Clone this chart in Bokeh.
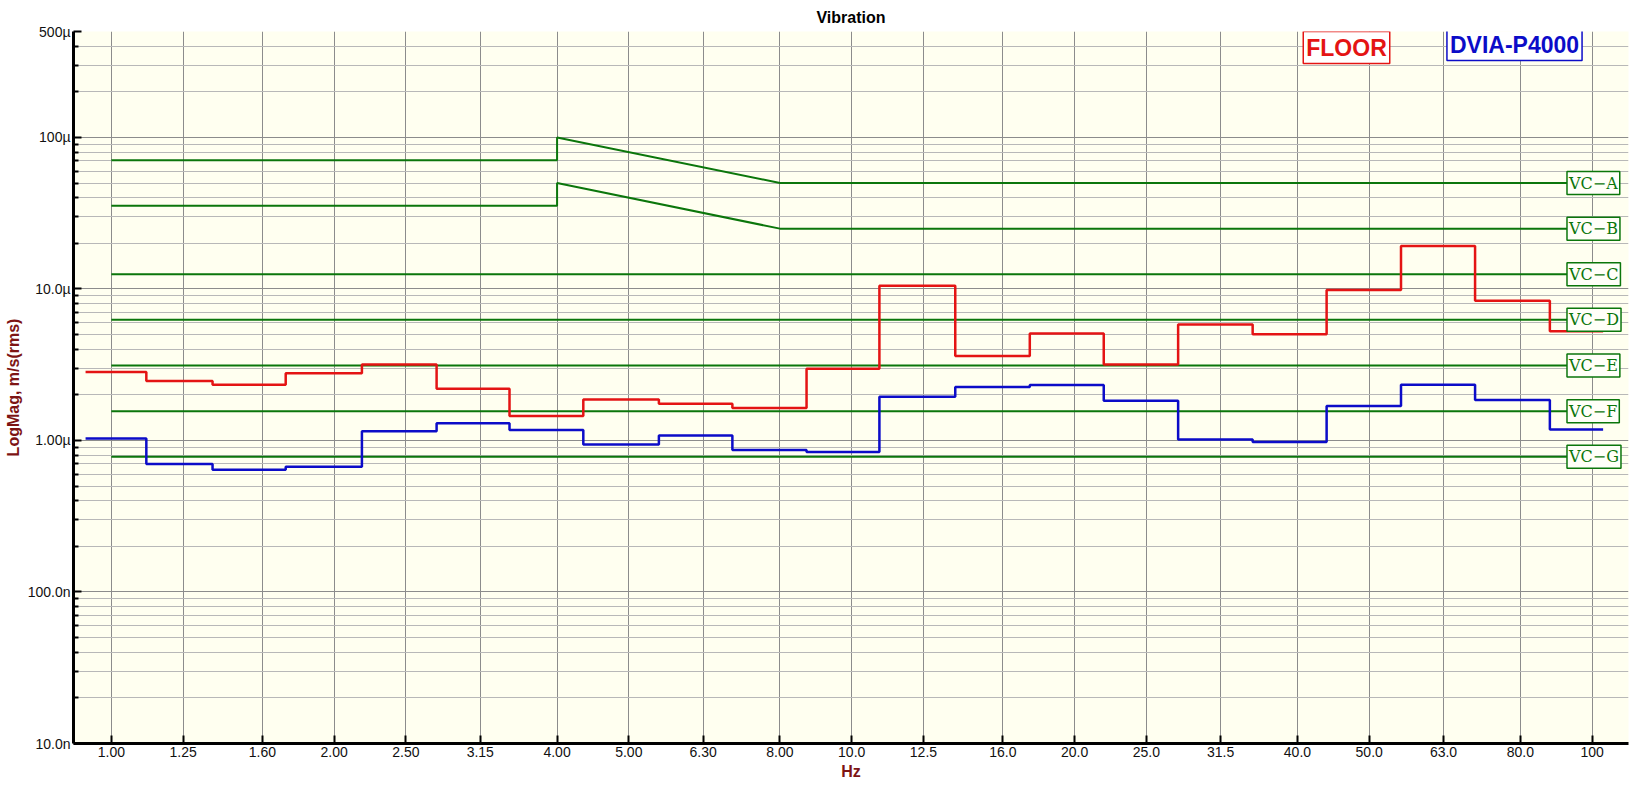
from bokeh.plotting import figure
from bokeh.models import FixedTicker, Label, Range1d
from bokeh.embed import file_html
from bokeh.resources import INLINE

# 1/3 octave band centres (Hz) and their axis labels
bands = [1.0, 1.25, 1.6, 2.0, 2.5, 3.15, 4.0, 5.0, 6.3, 8.0, 10.0, 12.5,
         16.0, 20.0, 25.0, 31.5, 40.0, 50.0, 63.0, 80.0, 100.0]
band_labels = ["1.00", "1.25", "1.60", "2.00", "2.50", "3.15", "4.00", "5.00",
               "6.30", "8.00", "10.0", "12.5", "16.0", "20.0", "25.0", "31.5",
               "40.0", "50.0", "63.0", "80.0", "100"]

# band edges used by the step traces (Hz)
band_edges = [0.923, 1.115, 1.37, 1.72, 2.18, 2.75, 3.45, 4.34, 5.49, 6.90,
              8.69, 10.9, 13.8, 17.4, 21.9, 27.6, 34.8, 43.8, 55.2, 69.5,
              87.7, 103.5]

# measured levels, um/s rms
floor_um = [2.83, 2.47, 2.33, 2.78, 3.17, 2.19, 1.45, 1.86, 1.75, 1.64, 2.97,
            10.5, 3.61, 5.08, 3.17, 5.82, 5.03, 9.85, 19.2, 8.35, 5.26]
dvia_um = [1.03, 0.70, 0.64, 0.67, 1.15, 1.30, 1.17, 0.94, 1.08, 0.865, 0.84,
           1.94, 2.25, 2.32, 1.83, 1.015, 0.975, 1.69, 2.33, 1.85, 1.18]

# vibration criteria curves, um/s
vc_ab_freq = [1.0, 4.0, 4.0, 8.0, 92.5]
vc_a = [70.7, 70.7, 100.0, 50.0, 50.0]
vc_b = [35.4, 35.4, 50.0, 25.0, 25.0]
vc_flat_freq = [1.0, 92.5]
vc_levels = [12.5, 6.25, 3.12, 1.56, 0.78]
vc_names = ["VC−A", "VC−B", "VC−C", "VC−D", "VC−E", "VC−F", "VC−G"]

# y axis ticks (m/s)
y_ticks = [1e-8, 1e-7, 1e-6, 1e-5, 1e-4, 5e-4]
y_tick_labels = ["10.0n", "100.0n", "1.00\u00b5", "10.0\u00b5", "100\u00b5", "500\u00b5"]
y_minor = [k * 10.0 ** e for e in range(-8, -4) for k in range(2, 10)] + [2e-4, 3e-4, 4e-4]

GREEN = "#0b760b"
RED = "#e41414"
BLUE = "#0c0cc8"
DARKRED = "#7d1414"
FONT = "Liberation Sans"

u = 1e-6

p = figure(width=1632, height=788, x_axis_type="log", y_axis_type="log",
           x_range=Range1d(0.889, 112), y_range=Range1d(1e-8, 5e-4),
           output_backend="svg", toolbar_location=None, title="Vibration",
           min_border_left=73, min_border_right=4, min_border_top=31,
           min_border_bottom=45)

p.title.align = "center"
p.title.vertical_align = "top"
p.title.text_font = FONT
p.title.text_font_size = "16px"
p.title.text_font_style = "bold"
p.title.text_color = "black"
p.title.standoff = 8
p.outline_line_color = None
p.background_fill_color = "#FFFFF0"
p.border_fill_color = "white"

xt = FixedTicker(ticks=bands, minor_ticks=[])
yt = FixedTicker(ticks=y_ticks, minor_ticks=y_minor)
p.xaxis.ticker = xt
p.yaxis.ticker = yt
p.xaxis.major_label_overrides = {b: l for b, l in zip(bands, band_labels)}
p.yaxis.major_label_overrides = {t: l for t, l in zip(y_ticks, y_tick_labels)}

for ax in (p.xaxis, p.yaxis):
    ax.axis_line_width = 3
    ax.axis_line_color = "black"
    ax.major_tick_in = 8
    ax.major_tick_out = 0
    ax.major_tick_line_width = 2
    ax.minor_tick_in = 5
    ax.minor_tick_out = 0
    ax.minor_tick_line_width = 2
    ax.major_label_text_font = FONT
    ax.major_label_text_font_size = "14px"
    ax.major_label_text_color = "#111111"
    ax.major_label_standoff = 3
    ax.axis_label_text_font = FONT
    ax.axis_label_text_font_size = "16px"
    ax.axis_label_text_font_style = "bold"
    ax.axis_label_text_color = DARKRED
    ax.axis_label_standoff = 3

p.xaxis.axis_label = "Hz"
p.yaxis.axis_label = "LogMag, m/s(rms)"

p.xgrid.ticker = xt
p.xgrid.grid_line_color = "#8c8c8c"
p.ygrid.ticker = yt
p.ygrid.grid_line_color = "#8c8c8c"
p.ygrid.minor_grid_line_color = "#b8b8b8"

# criteria lines
p.line(vc_ab_freq, [v * u for v in vc_a], line_color=GREEN, line_width=2)
p.line(vc_ab_freq, [v * u for v in vc_b], line_color=GREEN, line_width=2)
for lev in vc_levels:
    p.line(vc_flat_freq, [lev * u, lev * u], line_color=GREEN, line_width=2)

vc_label_levels = [vc_a[-1], vc_b[-1]] + vc_levels
for name, lev in zip(vc_names, vc_label_levels):
    p.add_layout(Label(x=vc_flat_freq[-1], y=lev * u, text=name,
                       text_align="left", text_baseline="middle",
                       text_font="DejaVu Serif", text_font_size="16px",
                       text_color=GREEN, border_line_color=GREEN,
                       border_line_width=1.5, background_fill_color="#FFFFF8",
                       padding=2))

# measured traces
p.step(band_edges, [v * u for v in floor_um + floor_um[-1:]], mode="after",
       line_color=RED, line_width=2.5)
p.step(band_edges, [v * u for v in dvia_um + dvia_um[-1:]], mode="after",
       line_color=BLUE, line_width=2.5)

# trace name boxes
p.add_layout(Label(x=1273, y=696, x_units="screen", y_units="screen",
                   text="FLOOR", text_align="center", text_baseline="middle",
                   text_font=FONT, text_font_size="23px", text_font_style="bold",
                   text_color=RED, border_line_color=RED, border_line_width=1.5,
                   background_fill_color="white", padding=3))
p.add_layout(Label(x=1441, y=699, x_units="screen", y_units="screen",
                   text="DVIA-P4000", text_align="center", text_baseline="middle",
                   text_font=FONT, text_font_size="23px", text_font_style="bold",
                   text_color=BLUE, border_line_color=BLUE, border_line_width=1.5,
                   background_fill_color="white", padding=3))

open("out.html", "w").write(file_html(p, INLINE))
